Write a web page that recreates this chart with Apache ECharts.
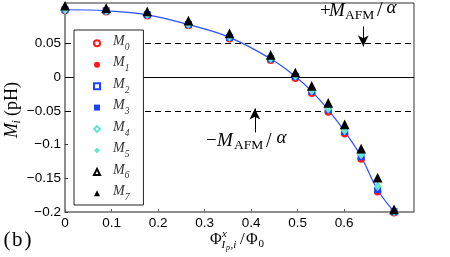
<!DOCTYPE html>
<html><head><meta charset="utf-8">
<script src="https://cdn.jsdelivr.net/npm/echarts@6/dist/echarts.min.js"></script>
<style>html,body{margin:0;padding:0;background:#fff}#c{width:450px;height:257px}</style>
</head><body><div id="c"></div>
<script>
// ---- data ----
const phi = [0, 0.0884, 0.1768, 0.2652, 0.3536, 0.4419, 0.4950, 0.5303, 0.5657, 0.6010, 0.6364, 0.6718, 0.7071];
const mRed   = [0.0990, 0.0970, 0.0910, 0.0765, 0.0570, 0.0250, -0.0015, -0.0240, -0.0515, -0.0840, -0.1215, -0.1700, -0.2010];
const mBlue  = [0.1000, 0.0985, 0.0925, 0.0780, 0.0590, 0.0272, 0.0010, -0.0210, -0.0485, -0.0805, -0.1180, -0.1670, -0.1995];
const mCyan  = [0.1000, 0.0985, 0.0930, 0.0785, 0.0595, 0.0280, 0.0020, -0.0200, -0.0470, -0.0790, -0.1150, -0.1620, -0.1990];
const mBlack = [0.1050, 0.1015, 0.0965, 0.0830, 0.0640, 0.0320, 0.0060, -0.0140, -0.0390, -0.0710, -0.1070, -0.1500, -0.1970];
const curveX = [0, 0.0884, 0.1768, 0.2652, 0.3536, 0.4419, 0.4950, 0.5303, 0.5657, 0.6010, 0.6364, 0.6718, 0.7071];
const curveY = [0.1000, 0.0985, 0.0925, 0.0780, 0.0590, 0.0272, 0.0010, -0.0210, -0.0485, -0.0805, -0.1180, -0.1670, -0.1995];
const seriesNames = ['M0','M1','M2','M3','M4','M5','M6','M7'];
const xTicks = [0, 0.1, 0.2, 0.3, 0.4, 0.5, 0.6, 0.7];
const xTickLabels = ['0','0.1','0.2','0.3','0.4','0.5','0.6','0.7'];
const yTicks = [-0.2, -0.15, -0.1, -0.05, 0, 0.05, 0.1];
const yTickLabels = ['\u22120.2','\u22120.15','\u22120.1','\u22120.05','0','0.05','0.1'];
const afmLevels = [0.05, -0.05];
const upArrow = [[0.641, 0.0753], [0.641, 0.0455]];
const downArrow = [[0.408, -0.0820], [0.408, -0.0465]];

const pair = (xs, ys) => xs.map((x, i) => [x, ys[i]]);
const lookup = (ticks, labels) => v => {
  let k = 0, d = Infinity;
  ticks.forEach((t, i) => { if (Math.abs(t - v) < d) { d = Math.abs(t - v); k = i; } });
  return d < 1e-6 ? labels[k] : '';
};

const RED = '#ff1a1a', BLUE = '#1f44ff', CYAN = '#66e6cc', BLK = '#000';
const SERIF = 'Liberation Serif';
const styles = [
  {sym: 'emptyCircle', size: 5.5, color: RED, d: mRed, bw: 1},
  {sym: 'circle', size: 6, color: RED, d: mRed, bw: 0},
  {sym: 'emptyRect', size: 5, color: BLUE, d: mBlue, bw: 1},
  {sym: 'rect', size: 5.5, color: BLUE, d: mBlue, bw: 0},
  {sym: 'emptyDiamond', size: [5, 6.5], color: CYAN, d: mCyan, bw: 1},
  {sym: 'diamond', size: [5.5, 7], color: CYAN, d: mCyan, bw: 0},
  {sym: 'emptyTriangle', size: 6.5, color: BLK, d: mBlack, bw: 1},
  {sym: 'triangle', size: 7, color: BLK, d: mBlack, bw: 0}
];

const dashStyle = {type: [6, 4], color: '#000', width: 1};
const series = [{
  type: 'line', name: 'curve', data: pair(curveX, curveY), smooth: 0.4,
  showSymbol: false, symbol: 'none', lineStyle: {color: '#2a50ff', width: 1.2},
  silent: true, z: 1,
  markLine: {
    silent: true, animation: false, symbol: 'none', label: {show: false},
    emphasis: {disabled: true},
    data: [
      {yAxis: afmLevels[0], lineStyle: dashStyle},
      {yAxis: afmLevels[1], lineStyle: dashStyle},
      {yAxis: 0, lineStyle: {type: 'solid', color: '#000', width: 1}},
      [{coord: upArrow[0], symbol: 'none'}, {coord: upArrow[1], symbol: 'arrow', symbolSize: [8, 11], lineStyle: {type: 'solid', color: '#000', width: 1}}],
      [{coord: downArrow[0], symbol: 'none'}, {coord: downArrow[1], symbol: 'arrow', symbolSize: [8, 11], lineStyle: {type: 'solid', color: '#000', width: 1}}]
    ]
  }
}];
styles.forEach((s, i) => {
  series.push({
    type: 'scatter', name: seriesNames[i], data: pair(phi, s.d), symbol: s.sym,
    symbolSize: s.size, clip: false, z: 3 + i,
    itemStyle: {color: s.color, borderColor: s.color, borderWidth: s.bw, opacity: 1}
  });
});

function T(x, y, text, size, italic, extra) {
  return Object.assign({type: 'text', x: x, y: y, silent: true,
    style: {text: text, fontFamily: SERIF, fontSize: size, fontStyle: italic ? 'italic' : 'normal',
      fill: '#000', align: 'left', verticalAlign: 'middle'}}, extra || {});
}

const graphics = [
  // upper annotation  +M_AFM/alpha
  T(320, 11.0, '+', 19, false), T(329, 11.0, 'M', 19, true), T(345, 15.6, 'AFM', 13.5, false),
  T(377, 11.0, '/', 20, false), T(386.5, 7.6, '\u03b1', 19, true),
  // lower annotation  -M_AFM/alpha
  T(206, 141.3, '\u2212', 19, false), T(217, 141.3, 'M', 19, true), T(234, 145.6, 'AFM', 13.5, false),
  T(266, 141.3, '/', 20, false), T(276.5, 137.9, '\u03b1', 19, true),
  // x axis title  Phi^x_{I_p,i}/Phi_0
  T(210, 239.5, '\u03a6', 16, false), T(222, 234.2, 'x', 11, true),
  T(221.5, 245, 'I', 11, true), T(226, 248, 'p', 8, true), T(230.5, 245, ',i', 11, true),
  T(240, 239.5, '/', 17, false), T(246, 239.5, '\u03a6', 16, false), T(258.5, 244.5, '0', 11, false),
  // panel label
  T(3.5, 240.5, '(', 21, false), T(12, 240.5, 'b', 21, false), T(24.5, 240.5, ')', 21, false),
  // y axis title  M_i (pH), rotated
  {type: 'group', x: 12.6, y: 138, rotation: Math.PI / 2, silent: true, children: [
    T(0, 0, 'M', 18, true), T(14.5, 4, 'i', 12, true), T(22, 0, '(pH)', 18, false)
  ]}
];

const chart = echarts.init(document.getElementById('c'), null, {renderer: 'canvas'});
chart.setOption({
  animation: false,
  backgroundColor: '#fff',
  grid: {left: 65, right: 36, top: 3, bottom: 45, show: true, borderColor: '#333', borderWidth: 1, backgroundColor: 'transparent'},
  xAxis: {
    type: 'value', min: 0, max: 0.75, interval: 0.1,
    splitLine: {show: false},
    axisLine: {show: true, onZero: false, lineStyle: {color: '#8a8a8a', width: 1.5}},
    axisTick: {show: true, inside: true, length: 3, customValues: xTicks, lineStyle: {color: '#666'}},
    axisLabel: {customValues: xTicks, formatter: lookup(xTicks, xTickLabels), showMaxLabel: false,
      fontFamily: 'Liberation Sans', fontSize: 13.5, color: '#000', margin: 4}
  },
  yAxis: {
    type: 'value', min: -0.2, max: 0.11, interval: 0.05,
    splitLine: {show: false},
    axisLine: {show: true, onZero: false, lineStyle: {color: '#8a8a8a', width: 1.5}},
    axisTick: {show: true, inside: true, length: 3, customValues: yTicks, lineStyle: {color: '#333'}},
    axisLabel: {customValues: yTicks, formatter: lookup(yTicks, yTickLabels), showMaxLabel: false,
      fontFamily: 'Liberation Sans', fontSize: 13.5, color: '#000', margin: 4}
  },
  legend: {
    data: seriesNames, orient: 'vertical', left: 74, top: 30,
    padding: [4.3, 14, 2.7, 19], itemGap: 3.43, itemWidth: 6, itemHeight: 6,
    backgroundColor: '#fff', borderColor: '#222', borderWidth: 1, borderRadius: 0,
    selectedMode: false, z: 10,
    formatter: name => '{sp|}{m|M}{s|' + name.slice(1) + '}',
    textStyle: {
      color: '#333',
      rich: {
        sp: {width: 8, lineHeight: 18},
        m: {fontFamily: SERIF, fontStyle: 'italic', fontSize: 14, lineHeight: 14, verticalAlign: 'top', color: '#333'},
        s: {fontFamily: SERIF, fontStyle: 'italic', fontSize: 9.5, lineHeight: 12, verticalAlign: 'bottom', color: '#333'}
      }
    }
  },
  graphic: graphics,
  series: series
});
</script></body></html>
